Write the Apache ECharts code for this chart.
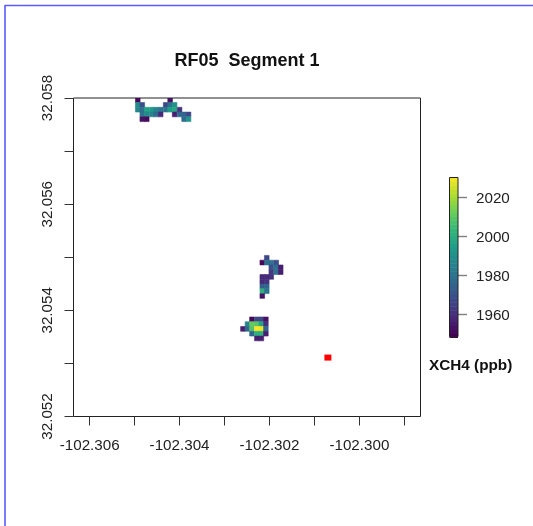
<!DOCTYPE html>
<html>
<head>
<meta charset="utf-8">
<style>html,body{margin:0;padding:0;background:#fff}#c{width:533px;height:526px}</style>
<script src="https://cdn.jsdelivr.net/npm/echarts@6/dist/echarts.min.js"></script>
</head>
<body>
<div id="c"></div>
<script>
const lonTicks = [-102.306,-102.305,-102.304,-102.303,-102.302,-102.301,-102.300,-102.299];
const lonLabels = [-102.306,-102.304,-102.302,-102.300];
const latTicks = [32.052,32.053,32.054,32.055,32.056,32.057,32.058];
const latLabels = [32.052,32.054,32.056,32.058];
const scaleTicks = [1960,1980,2000,2020];
const scaleLevels = [1948,1950,1952,1954,1956,1958,1960,1962,1964,1966,1968,1970,1972,1974,1976,1978,1980,1982,1984,1986,1988,1990,1992,1994,1996,1998,2000,2002,2004,2006,2008,2010,2012,2014,2016,2018,2020,2022,2024,2026,2028];
const viridis = ['#440154','#482878','#3e4989','#31688e','#26828e','#1f9e89','#35b779','#6ece58','#b5de2b','#fde725'];
const sourcePoint = [-102.3007,32.05311];

const clusterNorth = [
 [-102.30493,32.05796,1950],[-102.30421,32.05796,1952],
 [-102.30493,32.05787,1988],[-102.30483,32.05787,1968],[-102.30431,32.05787,1966],[-102.30421,32.05787,1978],[-102.30411,32.05787,1990],
 [-102.30493,32.05778,1986],[-102.30483,32.05778,1978],[-102.30473,32.05778,1995],[-102.30462,32.05778,1992],[-102.30452,32.05778,1985],[-102.30442,32.05778,1980],[-102.30431,32.05778,1978],[-102.30421,32.05778,1994],[-102.30411,32.05778,1997],[-102.30400,32.05778,1960],
 [-102.30483,32.05769,1980],[-102.30473,32.05769,1988],[-102.30462,32.05769,1985],[-102.30452,32.05769,1977],[-102.30442,32.05769,1958],[-102.30411,32.05769,1955],[-102.30400,32.05769,1975],[-102.30390,32.05769,1975],[-102.30380,32.05769,1965],
 [-102.30483,32.05760,1952],[-102.30473,32.05760,1950],[-102.30390,32.05760,1976],[-102.30380,32.05760,1990]
];
const clusterMiddle = [
 [-102.30206,32.05499,1965],
 [-102.30216,32.05490,1950],[-102.30206,32.05490,1978],[-102.30196,32.05490,1978],[-102.30185,32.05490,1968],
 [-102.30196,32.05481,1968],[-102.30185,32.05481,1978],[-102.30175,32.05481,1955],
 [-102.30196,32.05472,1962],[-102.30185,32.05472,1978],[-102.30175,32.05472,1955],
 [-102.30216,32.05463,1958],[-102.30206,32.05463,1958],[-102.30196,32.05463,1960],
 [-102.30216,32.05454,1958],[-102.30206,32.05454,1960],
 [-102.30216,32.05445,1972],[-102.30206,32.05445,1975],
 [-102.30216,32.05436,2000],[-102.30206,32.05436,1980],
 [-102.30216,32.05427,1952]
];
const clusterSouth = [
 [-102.30239,32.05383,1950],[-102.30228,32.05383,1965],[-102.30218,32.05383,1965],[-102.30208,32.05383,1952],
 [-102.30249,32.05374,1985],[-102.30239,32.05374,2010],[-102.30228,32.05374,2008],[-102.30218,32.05374,1996],[-102.30208,32.05374,1960],
 [-102.30259,32.05365,1955],[-102.30249,32.05365,1975],[-102.30239,32.05365,2008],[-102.30228,32.05365,2030],[-102.30218,32.05365,2028],[-102.30208,32.05365,1975],
 [-102.30239,32.05356,1975],[-102.30228,32.05356,2000],[-102.30218,32.05356,2000],[-102.30208,32.05356,1955],
 [-102.30228,32.05347,1955],[-102.30218,32.05347,1955]
];
const cells = clusterNorth.concat(clusterMiddle, clusterSouth);

const FONT = '"Liberation Sans", Arial, sans-serif';
const CELL_W = 0.000103, CELL_H = 0.000089, LEVEL_H = 2;

function renderCell(params, api){
  const c = api.coord([api.value(0), api.value(1)]);
  const s = api.size([CELL_W, CELL_H]);
  const col = api.visual('color');
  return {type:'rect', shape:{x:c[0]-s[0]/2, y:c[1]-s[1]/2, width:s[0], height:s[1]}, style:{fill:col, stroke:col, lineWidth:0.6}};
}
function renderLevel(params, api){
  const a = api.coord([0, api.value(1)]);
  const b = api.coord([1, api.value(1)+LEVEL_H]);
  return {type:'rect', shape:{x:a[0], y:b[1], width:b[0]-a[0], height:a[1]-b[1]+0.5}, style:{fill:api.visual('color')}};
}

const chart = echarts.init(document.getElementById('c'), null, {renderer:'canvas'});
chart.setOption({
  animation:false,
  backgroundColor:'#fff',
  title:{text:'RF05  Segment 1', left:242, top:47, textAlign:'center',
    textStyle:{fontFamily:FONT,fontSize:18,fontWeight:'bold',color:'#111'}},
  graphic:[
    {type:'line',shape:{x1:5,y1:5.5,x2:533,y2:5.5},style:{stroke:'#5a5aff',lineWidth:1.5},z:10},
    {type:'line',shape:{x1:5,y1:5,x2:5,y2:526},style:{stroke:'#5a5aff',lineWidth:1.6},z:10},
    {type:'text',style:{x:429,y:358.5,text:'XCH4 (ppb)',fontFamily:FONT,fontSize:15.3,fontWeight:'bold',fill:'#111'},z:10}
  ],
  grid:[
    {left:73.5,top:98,width:347,height:318.5,show:true,borderColor:'#222',borderWidth:1,backgroundColor:'#fff'},
    {left:449.5,top:177.5,width:8.5,height:159,show:true,borderColor:'#222',borderWidth:1,backgroundColor:'transparent',z:5}
  ],
  xAxis:[
    {type:'value',gridIndex:0,min:-102.30636,max:-102.29864,scale:true,
      splitLine:{show:false},axisLine:{show:false},
      axisTick:{show:true,length:9,customValues:lonTicks,lineStyle:{color:'#333',width:1}},
      axisLabel:{show:true,customValues:lonLabels,margin:22,fontFamily:FONT,fontSize:15.2,color:'#222',
        formatter:v=>v.toFixed(3)}},
    {type:'value',gridIndex:1,min:0,max:1,show:false}
  ],
  yAxis:[
    {type:'value',gridIndex:0,min:32.052,max:32.058,scale:true,
      splitLine:{show:false},axisLine:{show:false},
      axisTick:{show:true,length:9,customValues:latTicks,lineStyle:{color:'#333',width:1}},
      axisLabel:{show:true,customValues:latLabels,rotate:90,margin:18.5,fontFamily:FONT,fontSize:15.2,color:'#222',
        formatter:v=>v.toFixed(3)}},
    {type:'value',gridIndex:1,min:1948.5,max:2030,position:'right',
      splitLine:{show:false},axisLine:{show:false,onZero:false},
      axisTick:{show:true,inside:false,length:9,customValues:scaleTicks,lineStyle:{color:'#808080',width:1.4}},
      axisLabel:{show:true,customValues:scaleTicks,margin:18,color:'#222',
        rich:{t:{fontFamily:FONT,fontSize:15.2,color:'#222',padding:[4,0,0,0]}},
        formatter:v=>'{t|'+v+'}'}}
  ],
  visualMap:{show:false,type:'continuous',min:1948,max:2030,dimension:2,seriesIndex:[0,2],inRange:{color:viridis}},
  series:[
    {type:'custom',xAxisIndex:0,yAxisIndex:0,renderItem:renderCell,data:cells,encode:{x:0,y:1},clip:true,silent:true},
    {type:'scatter',xAxisIndex:0,yAxisIndex:0,symbol:'rect',symbolSize:[7,6],data:[sourcePoint],itemStyle:{color:'#ff0000',opacity:1},silent:true},
    {type:'custom',xAxisIndex:1,yAxisIndex:1,renderItem:renderLevel,data:scaleLevels.map(v=>[0,v,v]),encode:{x:0,y:1},silent:true}
  ]
});
</script>
</body>
</html>
